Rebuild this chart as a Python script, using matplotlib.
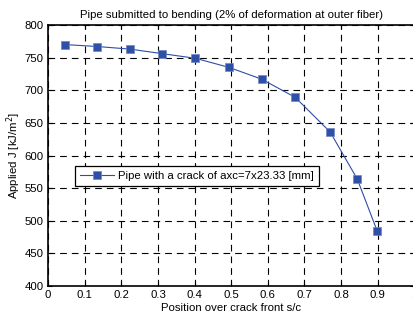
import numpy as np
import matplotlib
matplotlib.use('Agg')
import matplotlib.pyplot as plt

plt.rcParams['font.family'] = ['Liberation Sans', 'DejaVu Sans']

# Data
pos = [0.045, 0.134, 0.224, 0.312, 0.402, 0.494, 0.583, 0.675, 0.770, 0.844, 0.898]
J = [770, 767, 763, 756, 749, 735, 717, 689, 636, 564, 485]
xticks = [0, 0.1, 0.2, 0.3, 0.4, 0.5, 0.6, 0.7, 0.8, 0.9, 1]
xlabels = ['0', '0.1', '0.2', '0.3', '0.4', '0.5', '0.6', '0.7', '0.8', '0.9', '1']
yticks = [400, 450, 500, 550, 600, 650, 700, 750, 800]

fig = plt.figure(figsize=(4.14, 3.2), dpi=100)
ax = fig.add_axes([0.116, 0.106, 0.885, 0.816])

ax.plot(pos, J, color='#2f4ea8', lw=0.8, marker='s', markersize=6,
        markerfacecolor='#3050a8', markeredgecolor='#6f86c4', markeredgewidth=0.5,
        label='Pipe with a crack of axc=7x23.33 [mm]')

ax.set_xlim(0, 1)
ax.set_ylim(400, 800)
ax.set_xticks(xticks)
ax.set_xticklabels(xlabels)
ax.set_yticks(yticks)
ax.tick_params(direction='in', labelsize=8.2, length=3, width=0.8, top=True, right=True, pad=3)
ax.grid(True, color='black', linestyle=(0, (6, 4.5)), linewidth=0.8)
for s in ax.spines.values():
    s.set_linewidth(1.2)

ax.set_title('Pipe submitted to bending (2% of deformation at outer fiber)', fontsize=8.2, pad=5)
ax.set_xlabel('Position over crack front s/c', fontsize=8.2, labelpad=2)
ax.set_ylabel('Applied J [kJ/m$^2$]', fontsize=8.2, labelpad=1)

leg = ax.legend(loc='lower left', bbox_to_anchor=(0.073, 0.382), fontsize=8.2,
                fancybox=False, framealpha=1, edgecolor='black', borderpad=0.45,
                handlelength=3.0, handletextpad=0.35, borderaxespad=0)
leg.get_frame().set_linewidth(0.9)

fig.savefig('out.png', dpi=100)
